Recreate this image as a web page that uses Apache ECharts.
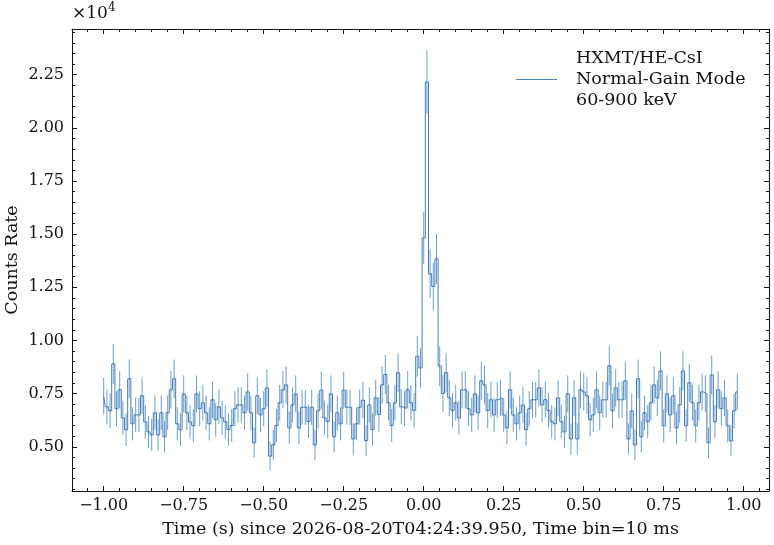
<!DOCTYPE html>
<html>
<head>
<meta charset="utf-8">
<script src="https://cdn.jsdelivr.net/npm/echarts@6/dist/echarts.min.js"></script>
<style>
html, body { margin: 0; padding: 0; background: #fff; }
#chart { width: 774px; height: 545px; }
</style>
</head>
<body>
<div id="chart"></div>
<script>
// light curve: 10 ms bins starting at -1.00 s (counts / s)
var tStart = -1.0;
var binWidth = 0.01;
var countsRate = [
  7380, 6880, 6700, 8900, 6790, 7680, 6360, 5800, 8200, 6080,
  6500, 6500, 7400, 6170, 5700, 5560, 6600, 5560, 6600, 5470,
  6600, 7680, 8200, 6080, 5800, 7490, 6600, 6170, 5990, 7490,
  6790, 7070, 6600, 6080, 7210, 6270, 6880, 6360, 6170, 5810,
  6000, 6790, 6970, 6970, 6600, 7580, 6600, 5190, 7400, 6500,
  6790, 7770, 4560, 5090, 6000, 7070, 7680, 7910, 5890, 6970,
  7490, 5890, 6860, 6860, 6190, 6860, 5090, 6690, 7660, 6360,
  6190, 7490, 5470, 6600, 6080, 7660, 6860, 6860, 5370, 6080,
  6860, 7190, 5290, 6970, 5810, 7300, 6520, 7910, 8400, 7070,
  6000, 7070, 8480, 6880, 6800, 7680, 7070, 6710, 9260, 8710,
  14820, 22160, 13130, 12540, 13840, 8790, 7510, 8480, 7300, 6710,
  7070, 6360, 7680, 7680, 6790, 6500, 7490, 6600, 8100, 7910,
  6710, 7210, 6500, 7210, 7300, 6500, 5890, 7680, 6500, 6080,
  6600, 6970, 5810, 6790, 7210, 7210, 7770, 6970, 7210, 6710,
  6180, 6080, 7300, 6180, 5700, 7490, 5370, 7300, 5370, 7680,
  7580, 7400, 6270, 6500, 7680, 6600, 7210, 7210, 8810, 6690,
  7770, 7210, 7210, 8100, 5370, 6690, 5090, 8200, 5470, 6600,
  6180, 7070, 7910, 7300, 8570, 5990, 7490, 6500, 7400, 5890,
  6970, 8570, 5990, 8010, 7070, 5990, 7070, 7580, 7490, 5190,
  8380, 6180, 7680, 6790, 7300, 5990, 5280, 6690, 7580
];
var xMajorTicks = [-1, -0.75, -0.5, -0.25, 0, 0.25, 0.5, 0.75, 1];
var yMajorTicks = [5000, 7500, 10000, 12500, 15000, 17500, 20000, 22500];
var legendName = 'HXMT/HE-CsI\nNormal-Gain Mode\n60-900 keV';

var xMin = -1.099, xMax = 1.079;
var yMin = 2920, yMax = 24650;
var font = 'DejaVu Serif';
var lineColor = '#2f6fae';
var errColor = '#6a9fd2';
var black = '#111';

// minor ticks every 0.05 s and every 500 counts/s
var xMinorTicks = [];
for (var k = -22; k <= 22; k++) {
  if (k % 5 !== 0) xMinorTicks.push(Math.round(k * 5) / 100);
}
var yMinorTicks = [];
for (var m = 3000; m <= 24500; m += 500) {
  if (m % 2500 !== 0) yMinorTicks.push(m);
}

var lineData = [];
var errData = [];
for (var i = 0; i < countsRate.length; i++) {
  var t = Math.round((tStart + i * binWidth) * 1000) / 1000;
  var v = countsRate[i];
  // poisson error of the counts in a bin, back to rate
  var e = Math.sqrt(v * binWidth) / binWidth;
  lineData.push([t, v]);
  errData.push([t, v - e, v + e]);
}

function xFmt(v) {
  return (v < 0 ? '\u2212' : '') + Math.abs(v).toFixed(2);
}
function yFmt(v) {
  return (v / 1e4).toFixed(2);
}

function makeAxis(dir, grid, pos, ticks, len, labels) {
  var ax = {
    type: 'value',
    gridIndex: grid,
    position: pos,
    min: dir === 'x' ? xMin : yMin,
    max: dir === 'x' ? xMax : yMax,
    splitLine: { show: false },
    axisLine: { show: grid === 0, onZero: false, lineStyle: { color: black, width: 1 } },
    axisTick: { show: true, inside: true, length: len, customValues: ticks, lineStyle: { color: black, width: 1 } },
    axisLabel: { show: false }
  };
  if (labels) {
    ax.axisLabel = {
      show: true,
      customValues: ticks,
      formatter: dir === 'x' ? xFmt : yFmt,
      margin: dir === 'x' ? 7 : 8,
      fontFamily: font,
      fontSize: 16,
      color: black
    };
  }
  return ax;
}

var xAxes = [
  makeAxis('x', 0, 'bottom', xMajorTicks, 5, true),
  makeAxis('x', 0, 'top', xMajorTicks, 5, false),
  makeAxis('x', 1, 'bottom', xMinorTicks, 3, false),
  makeAxis('x', 1, 'top', xMinorTicks, 3, false)
];
xAxes[0].name = 'Time (s) since 2026-08-20T04:24:39.950, Time bin=10 ms';
xAxes[0].nameLocation = 'middle';
xAxes[0].nameGap = 29;
xAxes[0].nameTextStyle = { fontFamily: font, fontSize: 17.5, color: black };

var yAxes = [
  makeAxis('y', 0, 'left', yMajorTicks, 5, true),
  makeAxis('y', 0, 'right', yMajorTicks, 5, false),
  makeAxis('y', 1, 'left', yMinorTicks, 3, false),
  makeAxis('y', 1, 'right', yMinorTicks, 3, false)
];
yAxes[0].name = 'Counts Rate';
yAxes[0].nameLocation = 'middle';
yAxes[0].nameRotate = 90;
yAxes[0].nameGap = 51;
yAxes[0].nameMoveOverlap = false;
yAxes[0].nameTextStyle = { fontFamily: font, fontSize: 17.5, color: black };

var chart = echarts.init(document.getElementById('chart'), null, { renderer: 'canvas' });
chart.setOption({
  animation: false,
  backgroundColor: '#fff',
  grid: [
    { left: 72, right: 5, top: 29, bottom: 54, containLabel: false, outerBoundsMode: 'none' },
    { left: 72, right: 5, top: 29, bottom: 54, containLabel: false, outerBoundsMode: 'none' }
  ],
  xAxis: xAxes,
  yAxis: yAxes,
  legend: {
    data: [{ name: legendName, icon: 'rect' }],
    left: 511,
    top: 43,
    orient: 'vertical',
    itemWidth: 41,
    itemHeight: 1,
    itemStyle: { color: '#4a86c0' },
    textStyle: { fontFamily: font, fontSize: 17.5, color: black, lineHeight: 21, padding: [0, 0, 0, 14] }
  },
  graphic: [
    { type: 'text', left: 72, top: 5, style: { text: '\u00d710', font: '17px "DejaVu Serif"', fill: black } },
    { type: 'text', left: 108, top: 2, style: { text: '4', font: '12px "DejaVu Serif"', fill: black } }
  ],
  series: [
    {
      type: 'custom',
      xAxisIndex: 0,
      yAxisIndex: 0,
      silent: true,
      z: 1,
      data: errData,
      encode: { x: 0, y: [1, 2] },
      renderItem: function (params, api) {
        var p1 = api.coord([api.value(0), api.value(1)]);
        var p2 = api.coord([api.value(0), api.value(2)]);
        return {
          type: 'line',
          shape: { x1: p1[0], y1: p1[1], x2: p2[0], y2: p2[1] },
          style: { stroke: errColor, lineWidth: 1 }
        };
      }
    },
    {
      name: legendName,
      type: 'line',
      step: 'middle',
      xAxisIndex: 0,
      yAxisIndex: 0,
      symbol: 'none',
      z: 3,
      data: lineData,
      lineStyle: { color: lineColor, width: 0.9 },
      itemStyle: { color: lineColor }
    }
  ]
});
</script>
</body>
</html>
